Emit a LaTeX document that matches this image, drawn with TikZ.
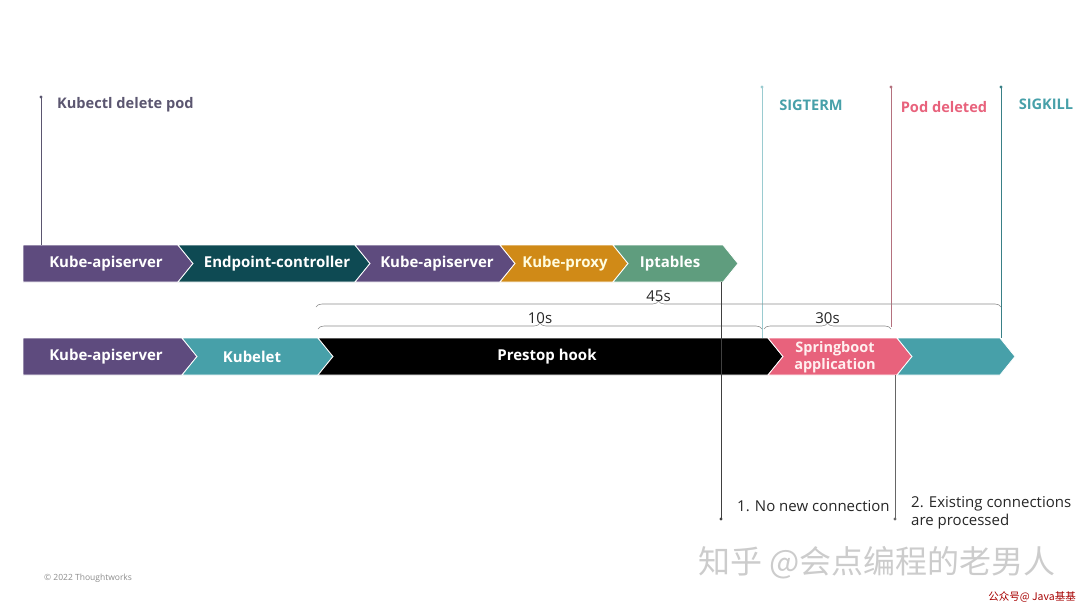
\documentclass[tikz,border=0pt]{standalone}
\usepackage{fontspec}
\setmainfont{Open Sans}
\newfontfamily\cjk{Noto Sans CJK SC}
\usetikzlibrary{decorations.pathreplacing}

\definecolor{kpurple}{HTML}{5E4B7E}
\definecolor{kdark}{HTML}{0E4A53}
\definecolor{korange}{HTML}{D08A17}
\definecolor{kgreen}{HTML}{5F9D7E}
\definecolor{kteal}{HTML}{47A0A9}
\definecolor{kpink}{HTML}{E8627C}
\definecolor{kgrey}{HTML}{5B5670}

% left, right, top, bottom, notch depth, colour
\newcommand{\chevron}[6]{%
  \filldraw[fill=#6, draw=white, line width=0.8pt] (#1,#3) -- (#2,#3) -- ({#2+15},{(#3+#4)/2})
    -- (#2,#4) -- (#1,#4) -- ({#1+#5},{(#3+#4)/2}) -- cycle;}

\begin{document}
\begin{tikzpicture}[x=1pt,y=-1pt,
    box/.style={font=\bfseries\fontsize{15}{17}\selectfont, text=white, align=center, inner sep=0pt},
    sig/.style={font=\bfseries\fontsize{14.6}{17}\selectfont, inner sep=0pt},
    note/.style={font=\fontsize{15}{18}\selectfont, text=black!85, align=left, inner sep=0pt},
    span/.style={draw=black!45, line width=0.6pt, decorate, decoration={brace, amplitude=6pt}},
    tick/.style={line width=0.7pt}]
  \useasboundingbox (0,0) rectangle (1080,608);

  % first row
  \chevron{23}{178}{245}{282}{0}{kpurple}
  \chevron{178}{355}{245}{282}{15}{kdark}
  \chevron{355}{500}{245}{282}{15}{kpurple}
  \chevron{500}{613}{245}{282}{15}{korange}
  \chevron{613}{723}{245}{282}{15}{kgreen}
  \node[box] (A1) at (106,264) {Kube-apiserver};
  \node[box] (EC) at (277,264) {Endpoint-controller};
  \node[box] (A2) at (437,264) {Kube-apiserver};
  \node[box, text=yellow!12] (KP) at (565,264) {Kube-proxy};
  \node[box] (IP) at (670,264) {Iptables};

  % second row
  \chevron{23}{182}{338}{375}{0}{kpurple}
  \chevron{182}{318}{338}{375}{15}{kteal}
  \chevron{318}{768}{338}{375}{15}{black}
  \chevron{768}{897}{338}{375}{15}{kpink}
  \chevron{897}{1000}{338}{375}{15}{kteal}
  \node[box] (A3) at (106,357) {Kube-apiserver};
  \node[box] (KL) at (252,357) {Kubelet};
  \node[box] (PH) at (547,357) {Prestop hook};
  \node[box, text=pink!25, font=\bfseries\fontsize{14.5}{17}\selectfont] (SB) at (835,357) {Springboot\\application};

  % events on top
  \node[sig, text=kgrey, anchor=west] (KD) at (57,105) {Kubectl delete pod};
  \node[sig, text=kteal] (ST) at (811,105) {SIGTERM};
  \node[sig, text=kpink] (PD) at (944,107) {Pod deleted};
  \node[sig, text=kteal] (SK) at (1046,104) {SIGKILL};

  \coordinate (KDt) at (41,97);   \coordinate (KDb) at (41,245);
  \coordinate (STt) at (762,87);  \coordinate (STb) at (762,338);
  \coordinate (PDt) at (891,87);  \coordinate (PDb) at (891,327);
  \coordinate (SKt) at (1001,87); \coordinate (SKb) at (1001,338);
  \draw[tick, kgrey] (KDt) -- (KDb);
  \draw[tick, kteal!55] (STt) -- (STb);
  \draw[tick, kpink!50!gray] (PDt) -- (PDb);
  \draw[tick, kteal!80!black] (SKt) -- (SKb);
  \fill[kgrey] (KDt) circle (1.6);
  \fill[kteal!55] (STt) circle (1.6);
  \fill[kpink!50!gray] (PDt) circle (1.6);
  \fill[kteal!80!black] (SKt) circle (1.6);

  % time spans
  \draw[span] (316,307) -- (1001,307) node[midway, above=5pt, note] (T45) {45s};
  \draw[span] (318,329) -- (762,329) node[midway, above=5pt, note] (T10) {10s};
  \draw[span] (764,329) -- (891,329) node[midway, above=5pt, note] (T30) {30s};

  % effects below
  \coordinate (IPb) at (721,282);  \coordinate (IPd) at (721,519);
  \coordinate (SBb) at (895,375);  \coordinate (SBd) at (895,519);
  \draw[tick, black!75] (IPb) -- (IPd);
  \draw[tick, black!60] (SBb) -- (SBd);
  \fill[black!75] (IPd) circle (1.6);
  \fill[black!60] (SBd) circle (1.6);
  \node[note, anchor=west] (N1) at (737,506) {1. No new connection};
  \node[note, anchor=west] (N2) at (911,513) {2. Existing connections\\are processed};

  \node[anchor=west, text=black!45, font=\fontsize{8.5}{9}\selectfont, inner sep=0pt] (CR) at (44,578) {\textcopyright{} 2022 Thoughtworks};
  \node[anchor=west, text=black!20, font=\cjk\fontsize{32}{32}\selectfont, inner sep=0pt] (WM) at (698,563) {知乎 @会点编程的老男人};
  \node[anchor=east, text=red!65!black, font=\cjk\fontsize{10.5}{10.5}\selectfont, inner sep=0pt] (GZ) at (1076,597) {公众号@ Java基基};
\end{tikzpicture}
\end{document}
